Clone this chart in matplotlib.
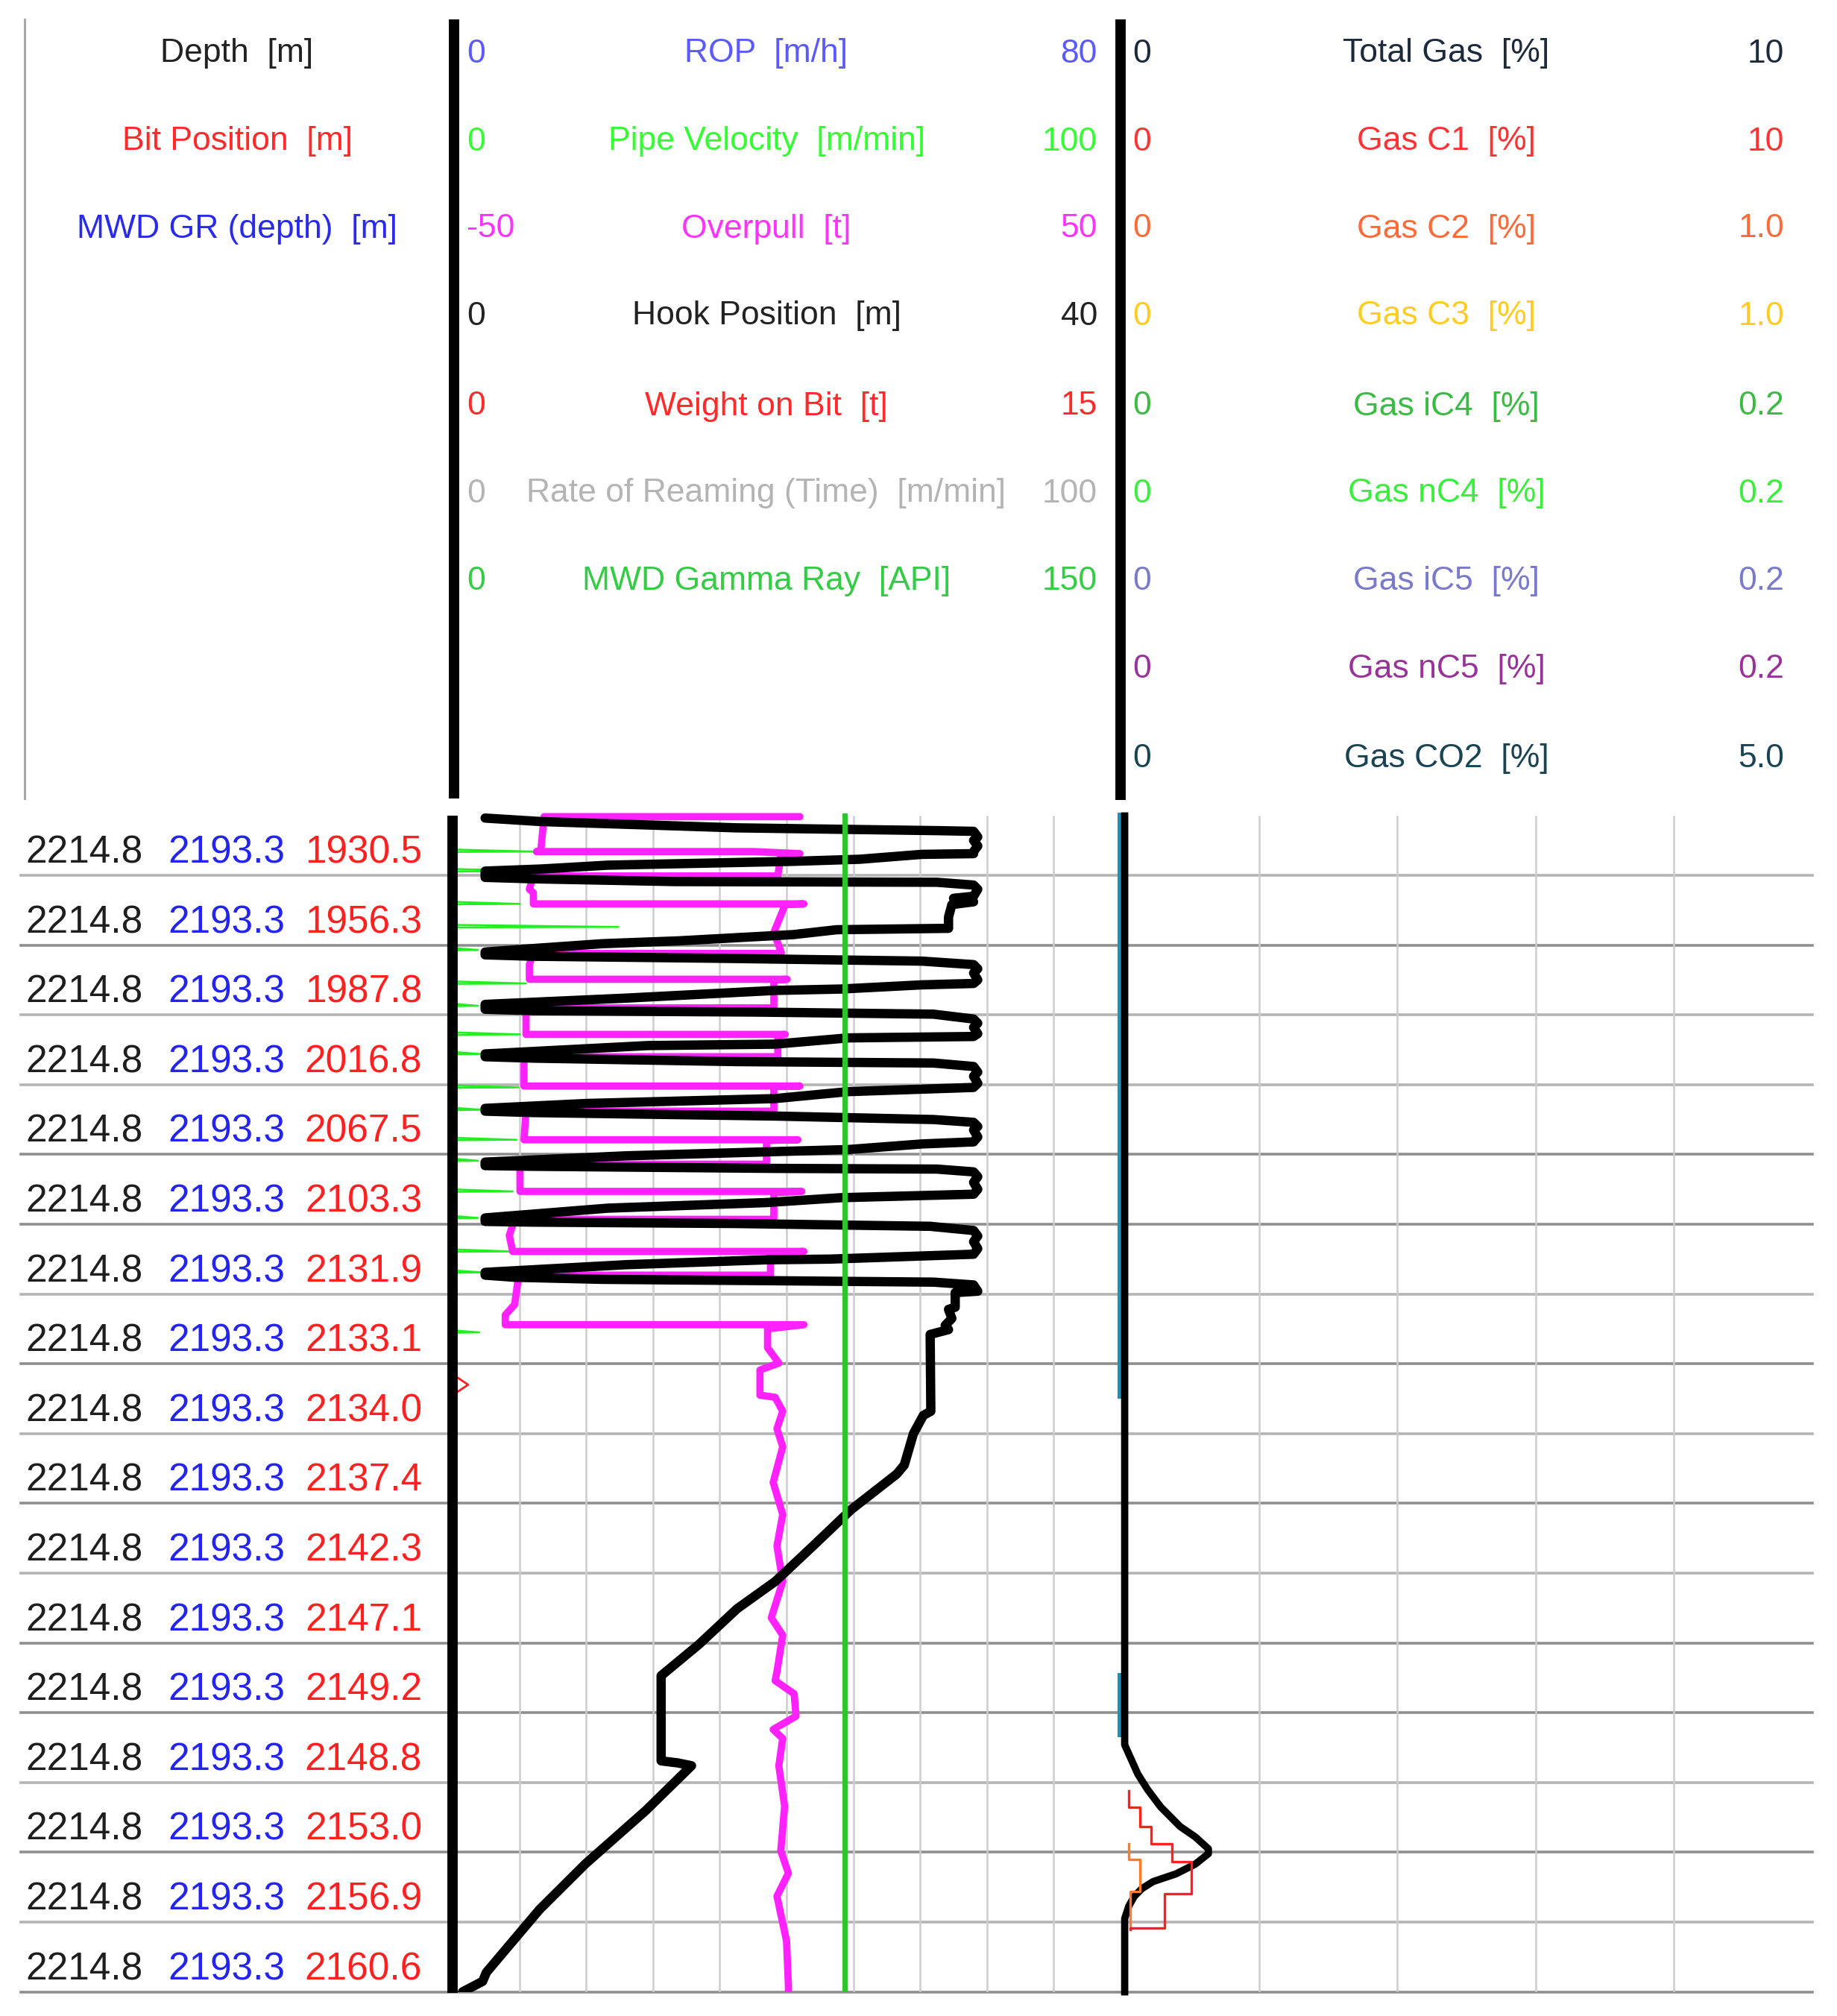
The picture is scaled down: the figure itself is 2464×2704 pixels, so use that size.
import numpy as np
import matplotlib
matplotlib.use('Agg')
import matplotlib.pyplot as plt
from matplotlib import font_manager as fm

W, H, DPI = 2464, 2704, 100

avail = {f.name for f in fm.fontManager.ttflist}
if 'Liberation Sans Narrow' in avail:
    FONT = ['Liberation Sans Narrow', 'DejaVu Sans']
    HS, DS = 38, 42
else:
    FONT = ['Liberation Sans', 'DejaVu Sans']
    HS, DS = 32, 37
plt.rcParams['font.family'] = FONT

# ---------------- data ----------------
n_rows = 17
depth_labels = ['2214.8'] * n_rows
gr_depth_labels = ['2193.3'] * n_rows
bit_position = [1930.5, 1956.3, 1987.8, 2016.8, 2067.5, 2103.3, 2131.9, 2133.1, 2134.0,
                2137.4, 2142.3, 2147.1, 2149.2, 2148.8, 2153.0, 2156.9, 2160.6]

left_hdr_names = ["Depth  [m]", "Bit Position  [m]", "MWD GR (depth)  [m]"]
left_hdr_colors = ['#222222', '#ff2a2a', '#2a2aee']

t2_names = ["ROP  [m/h]", "Pipe Velocity  [m/min]", "Overpull  [t]", "Hook Position  [m]",
            "Weight on Bit  [t]", "Rate of Reaming (Time)  [m/min]", "MWD Gamma Ray  [API]"]
t2_min = ["0", "0", "-50", "0", "0", "0", "0"]
t2_max = ["80", "100", "50", "40", "15", "100", "150"]
t2_colors = ['#5a5aff', '#33ff33', '#ff33ff', '#222222', '#ff2a2a', '#b4b4b4', '#33cc44']

t3_names = ["Total Gas  [%]", "Gas C1  [%]", "Gas C2  [%]", "Gas C3  [%]", "Gas iC4  [%]",
            "Gas nC4  [%]", "Gas iC5  [%]", "Gas nC5  [%]", "Gas CO2  [%]"]
t3_min = ["0"] * 9
t3_max = ["10", "10", "1.0", "1.0", "0.2", "0.2", "0.2", "0.2", "5.0"]
t3_colors = ['#1c2a3c', '#ff3333', '#ff6a3a', '#ffcc22', '#3cbb44', '#3cee3c',
             '#7a7acc', '#993399', '#1a4454']

# Hook position [m] vs time row
hook_row = [0.18, 0.23, 0.32, 0.36, 0.37, 0.45, 0.50, 0.58, 0.66, 0.69,
            0.70, 0.77, 0.80, 0.855, 0.91, 0.94, 1.03,
            1.05, 1.09, 1.10, 1.14, 1.20, 1.30, 1.33, 1.38, 1.42, 1.60, 1.76,
            1.78, 1.85, 1.94, 1.98, 2.05, 2.10, 2.14,
            2.16, 2.19, 2.23, 2.28, 2.34, 2.40, 2.50, 2.55,
            2.57, 2.63, 2.65, 2.76, 2.85, 2.92,
            2.94, 2.96, 2.99, 3.06, 3.12, 3.18, 3.27, 3.31,
            3.33, 3.42, 3.44, 3.56, 3.60,
            3.62, 3.67, 3.69, 3.74, 3.82, 3.88, 3.98, 4.04,
            4.10, 4.20, 4.27, 4.34, 4.38,
            4.40, 4.45, 4.50, 4.54, 4.60, 4.65, 4.75, 4.82,
            4.85, 4.93, 4.96, 5.02, 5.11, 5.16,
            5.17, 5.20, 5.21, 5.25, 5.32, 5.40, 5.50, 5.57,
            5.62, 5.69, 5.77, 5.91, 5.96,
            5.97, 5.99, 6.03, 6.09, 6.17, 6.25, 6.35, 6.43,
            6.50, 6.51, 6.58, 6.69, 6.73,
            6.76, 6.79, 6.81, 6.83, 6.87,
            6.96, 6.98, 7.19, 7.22, 7.35, 7.45, 7.51, 7.58,
            8.68, 8.74, 9.00, 9.45, 9.58, 10.09, 10.61, 11.12, 11.51, 12.02, 12.47,
            13.69, 13.72, 13.76, 14.40, 15.17, 15.82, 16.72, 16.85, 16.95, 17.0]
hook_m = [1.95, 5.3, 17.0, 29.0, 31.2, 31.45, 31.2, 31.45, 31.2, 31.2,
          28.1, 24.4, 20.4, 9.3, 5.3, 1.95, 1.95,
          4.8, 13.3, 29.0, 31.2, 31.45, 31.2, 30.0, 31.2, 29.9, 29.7, 29.7,
          23.0, 20.4, 13.5, 9.0, 4.8, 1.95, 1.95,
          4.8, 16.2, 28.1, 31.2, 31.45, 31.2, 31.45, 31.2,
          28.1, 23.25, 19.3, 10.4, 1.95, 1.95,
          4.8, 18.1, 28.8, 31.2, 31.45, 31.2, 31.45, 31.2,
          23.7, 19.3, 11.7, 1.95, 1.95,
          4.8, 17.0, 28.8, 31.2, 31.45, 31.2, 31.45, 31.2,
          23.7, 19.3, 8.0, 1.95, 1.95,
          4.8, 19.3, 28.8, 31.2, 31.45, 31.2, 31.45, 31.2,
          28.1, 23.7, 19.3, 10.4, 1.95, 1.95,
          4.8, 19.3, 29.0, 31.2, 31.45, 31.2, 31.45, 31.2,
          23.25, 18.8, 9.3, 1.95, 1.95,
          4.8, 17.0, 28.6, 31.2, 31.45, 31.2, 31.45, 31.2,
          22.6, 18.8, 10.4, 1.95, 1.95,
          3.7, 9.0, 19.3, 28.8, 31.2,
          31.45, 30.1, 30.1, 29.7, 29.9, 29.5, 29.7, 28.6,
          28.64, 28.19, 27.6, 27.05, 26.6, 23.87, 21.59, 19.32, 17.04, 14.76, 12.49,
          12.49, 13.5, 14.31, 11.58, 7.94, 5.21, 2.03, 1.8, 1.0, 0.6]

# Overpull [t]
op_row = [0.16, 0.16, 0.66, 0.66, 0.66, 0.69, 0.70, 1.00, 1.01, 1.01, 1.20, 1.25, 1.41,
          1.41, 1.42, 1.82, 2.10, 2.12, 2.12, 2.28, 2.49, 2.49, 2.50, 2.90, 2.90, 3.28,
          3.28, 3.29, 3.60, 3.60, 4.02, 4.02, 4.03, 4.38, 4.38, 4.79, 4.79, 4.80, 5.14,
          5.14, 5.53, 5.53, 5.55, 5.93, 5.93, 6.16, 6.39, 6.39, 6.41, 6.73, 6.73, 7.15,
          7.30, 7.44, 7.44, 7.50, 7.77, 7.99, 8.09, 8.45, 8.48, 8.68, 8.93, 9.19, 9.70,
          10.16, 10.61, 11.12, 11.64, 11.89, 12.41, 12.54, 12.73, 13.05, 13.24, 13.37,
          13.76, 14.34, 14.98, 15.30, 15.63, 16.27, 16.91, 17.0]
op_t = [2.0, -36.3, -36.8, -37.4, -5.0, 2.0, -0.8, -1.3, -1.3, -37.9, -38.5, -37.9, -37.9,
        2.6, -0.2, -1.9, -0.8, -0.8, -37.9, -38.5, -38.5, 0.1, -1.9, -1.9, -39.0, -39.0,
        -0.2, -1.3, -1.3, -39.3, -39.3, 2.0, -1.9, -1.9, -39.0, -39.3, 1.7, -3.0, -3.0,
        -39.9, -39.9, 2.3, -1.9, -1.9, -40.7, -41.5, -41.0, 2.6, -2.4, -2.4, -40.1, -40.7,
        -42.1, -42.1, 2.6, -2.84, -2.84, -1.15, -3.98, -3.98, -1.71, -0.57, -1.43, -0.57,
        -2.0, -0.57, -1.43, -0.57, -2.28, -0.57, -1.43, -1.71, 1.14, 1.42, -2.0, -0.57,
        -1.15, -0.29, -0.86, 0.28, -1.43, 0.0, 0.28, 0.28]

# Pipe velocity spikes [m/min]
pv_spike_row = [0.66, 0.94, 1.41, 1.74, 2.07, 2.55, 2.87, 3.28, 3.56, 4.04, 4.36, 4.79,
                5.09, 5.53, 5.91, 6.39, 6.69, 7.55]
pv_spike_val = [12.1, 15.0, 10.1, 24.8, 3.8, 11.0, 3.8, 10.1, 4.1, 9.9, 4.4, 9.6,
                3.8, 9.0, 3.8, 8.7, 4.4, 4.0]

# MWD gamma ray [API]
gr_row = [0.14, 17.0]
gr_api = [88.0, 88.0]

# Weight on bit [t]
wob_row = [8.15, 8.30, 8.45]
wob_t = [0.0, 0.35, 0.0]

# Total gas [%]
tg_row = [0.15, 13.46, 13.88, 14.10, 14.35, 14.63, 14.78, 14.95, 15.02, 15.17, 15.31,
          15.42, 15.52, 15.63, 15.77, 15.95, 17.0]
tg_pct = [0.06, 0.06, 0.25, 0.39, 0.58, 0.86, 1.08, 1.27, 1.27, 1.08, 0.80,
          0.47, 0.31, 0.20, 0.12, 0.06, 0.06]

# Gas C1 [%] (stepped)
c1_edges = [14.12, 14.35, 14.63, 14.88, 15.13, 15.59, 16.09, 16.11]
c1_levels = [0.12, 0.28, 0.44, 0.74, 1.02, 0.64, 0.14]
# Gas C2 [%] (stepped)
c2_edges = [14.88, 15.10, 15.56, 16.09]
c2_levels = [0.012, 0.028, 0.014]
# Gas CO2 [%]
co2_row = [0.15, 8.45, np.nan, 12.47, 13.30]
co2_pct = [0.0, 0.0, np.nan, 0.0, 0.0]

# ---------------- layout ----------------
Y0, Y1 = 1080.4, 2671.6
XL0, XT2, XT3, XR = 28, 607, 1503, 2431
hdr_y = [72, 190, 307, 424, 545, 662, 779, 898, 1017]

fig = plt.figure(figsize=(W / DPI, H / DPI), dpi=DPI)
fig.patch.set_facecolor('white')


def px_axes(x0, x1, y0=Y0, y1=Y1, z=1):
    ax = fig.add_axes([x0 / W, 1 - y1 / H, (x1 - x0) / W, (y1 - y0) / H], zorder=z)
    ax.axis('off')
    ax.patch.set_alpha(0)
    return ax


def track(x0, x1, lo, hi, z=2):
    ax = px_axes(x0, x1, z=z)
    ax.set_xlim(lo, hi)
    ax.set_ylim(n_rows, 0)
    return ax


def steps(edges, levels):
    xs, ys = [], []
    for i, lv in enumerate(levels):
        xs += [lv, lv]
        ys += [edges[i], edges[i + 1]]
    return xs, ys


# row grid over whole width
ax_rows = px_axes(XL0, XR, z=1)
ax_rows.set_xlim(XL0, XR)
ax_rows.set_ylim(n_rows, 0)
dark_rows = {1, 4, 5, 7, 9, 11, 12, 14, 16}
for k in range(n_rows):
    col = '#8e8e8e' if k in dark_rows else '#b4b4b4'
    ax_rows.axhline(k + 1, color=col, lw=2.6, clip_on=False, zorder=1)

# left column labels
for k in range(n_rows):
    yr = k + 0.68
    ax_rows.text(192, yr, depth_labels[k], ha='right', va='center', fontsize=DS, color='#1e1e1e')
    ax_rows.text(382, yr, gr_depth_labels[k], ha='right', va='center', fontsize=DS, color='#2424f0')
    ax_rows.text(566, yr, f"{bit_position[k]:.1f}", ha='right', va='center', fontsize=DS,
                 color='#ff2020')

# track 2 vertical grid
ax_t2 = track(XT2, XT3, 0, 10, z=1)
ax_t2.vlines(np.arange(1, 10), 0.14, n_rows, color='#cdcdcd', lw=1.8)
# track 3 vertical grid
ax_t3 = track(XT3, XR, 0, 5, z=1)
ax_t3.vlines(np.arange(1, 5), 0.14, n_rows, color='#cdcdcd', lw=1.8)

# pipe velocity spikes
ax_pv = track(XT2, XT3, 0, 100)
pv_r, pv_v = [], []
for r, v in zip(pv_spike_row, pv_spike_val):
    pv_r += [r - 0.03, r, r + 0.006]
    pv_v += [0, v, 0]
ax_pv.plot(pv_v, pv_r, color='#22ee22', lw=1.8)

# overpull
ax_op = track(XT2, XT3, -50, 50)
ax_op.plot(op_t, op_row, color='#ff22ff', lw=7, solid_joinstyle='round', solid_capstyle='round')

# hook position
ax_hk = track(XT2, XT3, 0, 40)
ax_hk.plot(hook_m, hook_row, color='black', lw=9, solid_joinstyle='round', solid_capstyle='round')

# gamma ray
ax_gr = track(XT2, XT3, 0, 150)
ax_gr.plot(gr_api, gr_row, color='#2ec42e', lw=5)

# weight on bit
ax_wb = track(XT2, XT3, 0, 15)
ax_wb.plot(wob_t, wob_row, color='#ff2020', lw=2.0)

# gas track
ax_co2 = track(XT3, XR, 0, 5)
ax_co2.plot(co2_pct, co2_row, color='#1f8fb5', lw=6.5, clip_on=False)
ax_tg = track(XT3, XR, 0, 10)
ax_tg.plot(tg_pct, tg_row, color='black', lw=7, solid_joinstyle='round', clip_on=False)
ax_c2 = track(XT3, XR, 0, 1)
x2, y2 = steps(c2_edges, c2_levels)
ax_c2.plot(x2, y2, color='#ff7a2a', lw=2.4)
ax_c1 = track(XT3, XR, 0, 10)
x1, y1 = steps(c1_edges, c1_levels)
ax_c1.plot(x1, y1, color='#ff2020', lw=2.4)

# frame: separators
ax_f = fig.add_axes([0, 0, 1, 1], zorder=10)
ax_f.set_xlim(0, W)
ax_f.set_ylim(H, 0)
ax_f.axis('off')
ax_f.patch.set_alpha(0)
ax_f.plot([33, 33], [26, 1071], color='#a8a8a8', lw=2.2)
ax_f.plot([609, 609], [26, 1071], color='black', lw=10, solid_capstyle='butt')
ax_f.plot([1503, 1503], [26, 1073], color='black', lw=10, solid_capstyle='butt')
ax_f.plot([607, 607], [1094, 2673], color='black', lw=10, solid_capstyle='butt')


def ftext(x, y, s, **kw):
    fig.text(x / W, 1 - y / H, s, fontsize=HS, va='center', **kw)


for i, (s, c) in enumerate(zip(left_hdr_names, left_hdr_colors)):
    ftext(318, hdr_y[i], s, ha='center', color=c)
for i, (s, c) in enumerate(zip(t2_names, t2_colors)):
    ftext(626, hdr_y[i], t2_min[i], ha='left', color=c)
    ftext(1028, hdr_y[i], s, ha='center', color=c)
    ftext(1472, hdr_y[i], t2_max[i], ha='right', color=c)
for i, (s, c) in enumerate(zip(t3_names, t3_colors)):
    ftext(1519, hdr_y[i], t3_min[i], ha='left', color=c)
    ftext(1940, hdr_y[i], s, ha='center', color=c)
    ftext(2393, hdr_y[i], t3_max[i], ha='right', color=c)

fig.savefig('out.png', dpi=DPI, facecolor='white')
